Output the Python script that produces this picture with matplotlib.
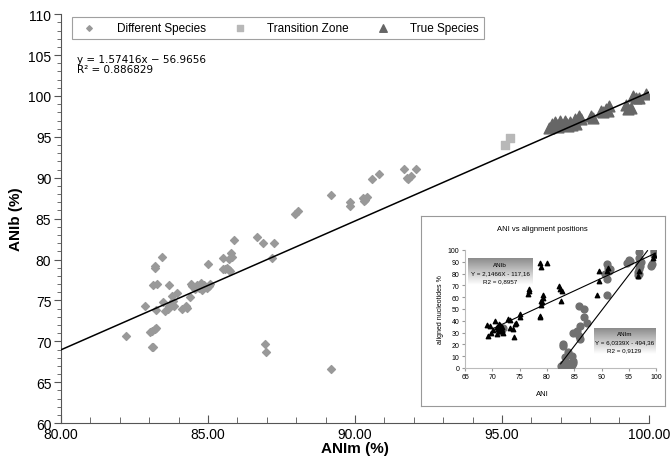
import numpy as np
import matplotlib
matplotlib.use("Agg")
import matplotlib.pyplot as plt
from matplotlib.ticker import MultipleLocator, FormatStrFormatter

plt.rcParams["font.family"] = ["Liberation Sans", "DejaVu Sans"]

# ---- main chart data (ANIm vs ANIb) ----
diff_x = [82.22, 82.87, 83.04, 83.1, 83.18, 83.22, 83.08, 83.14, 83.18, 83.2, 83.14, 83.25,
          83.23, 83.43, 83.48, 83.55, 83.63, 83.68, 83.66, 83.77, 83.85, 83.8, 83.96, 84.1,
          84.25, 84.3, 84.39, 84.41, 84.47, 84.55, 84.62, 84.7, 84.75, 84.8, 84.88, 84.95,
          85.02, 85.07, 84.78, 85.0, 85.52, 85.5, 85.58, 85.66, 85.72, 85.76, 85.77, 85.82,
          85.7, 85.87, 86.65, 86.86, 87.17, 87.23, 86.93, 86.98, 87.96, 88.07, 89.2, 89.2,
          89.83, 89.83, 90.27, 90.33, 90.4, 90.3, 90.57, 90.83, 91.68, 91.76, 91.9, 92.07,
          91.82]
diff_y = [70.6, 74.3, 71.1, 71.3, 71.5, 71.6, 69.3, 76.9, 79.2, 79.0, 69.3, 76.95,
          73.8, 80.3, 74.8, 73.7, 73.9, 74.3, 76.9, 75.6, 74.3, 74.95, 75.9, 73.9,
          74.3, 74.1, 75.4, 77.0, 76.8, 76.4, 76.9, 76.5, 77.1, 76.6, 76.9, 76.5,
          76.8, 77.0, 76.3, 79.4, 80.2, 78.8, 78.9, 79.0, 78.7, 78.6, 80.8, 80.3,
          80.1, 82.4, 82.8, 82.0, 80.2, 82.0, 69.7, 68.7, 85.6, 85.9, 87.9, 66.6,
          87.05, 86.5, 87.5, 87.3, 87.6, 87.2, 89.8, 90.5, 91.05, 89.95, 90.2, 91.05,
          89.8]

trans_x = [95.09, 95.28]
trans_y = [94.0, 94.9]

true_x = [96.69, 96.75, 96.8, 96.88, 96.97, 97.05, 97.14, 97.2, 97.31, 97.4, 97.48, 97.53,
          97.64, 97.7, 98.04, 98.1, 98.38, 98.45, 98.54, 98.6, 98.65, 99.22, 99.3, 99.39,
          99.45, 99.55, 99.67, 99.9, 96.6, 96.9, 97.25]
true_y = [96.55, 96.3, 96.83, 96.4, 96.96, 96.5, 96.96, 96.6, 96.83, 96.4, 97.24, 96.55,
          97.57, 97.2, 97.57, 97.3, 98.18, 98.0, 98.46, 98.2, 98.79, 98.87, 98.4, 98.59,
          100.0, 99.7, 99.81, 100.2, 96.1, 96.2, 96.3]

slope, intercept = 1.57416, -56.9656

# ---- inset data (ANI vs aligned nucleotides %) ----
anib_x = [78.7, 79.97, 78.9, 76.6, 76.7, 76.8, 79.0, 79.1, 79.2, 79.3, 78.9, 78.7,
          78.8, 75.1, 75.0, 72.9, 73.2, 74.2, 74.4, 73.2, 73.85, 74.0, 69.3, 69.1,
          69.5, 69.7, 70.5, 70.8, 71.0, 71.2, 71.4, 71.6, 71.8, 72.0, 70.9, 71.3,
          71.7, 82.2, 82.4, 82.6, 82.8, 89.1, 89.6, 89.6, 90.98, 91.1, 96.9, 96.6,
          99.6, 99.4, 70.2]
anib_y = [89.0, 89.0, 85.3, 63.0, 65.0, 67.0, 53.0, 56.0, 59.0, 62.0, 57.0, 44.0,
          43.0, 45.8, 43.0, 41.5, 40.6, 37.0, 38.0, 33.6, 33.0, 26.5, 27.4, 36.0,
          35.5, 30.0, 40.0, 35.0, 33.0, 31.0, 36.0, 34.0, 32.0, 30.0, 29.0, 37.0,
          35.0, 69.7, 66.9, 57.0, 65.0, 61.9, 73.4, 82.5, 82.5, 85.0, 82.5, 78.0,
          96.0, 93.5, 32.0]

anim_x = [90.7, 90.9, 91.1, 91.4, 91.6, 91.0, 91.0, 94.7, 95.0, 95.2, 96.9, 96.9,
          96.9, 96.9, 96.9, 96.6, 96.6, 99.6, 99.6, 99.6, 99.3, 99.1, 85.8, 86.7,
          86.7, 87.3, 84.85, 85.5, 86.1, 85.8, 86.1, 84.6, 84.85, 83.9, 83.3, 83.0,
          83.0, 83.3, 83.6, 83.9, 84.2, 84.5, 84.7, 82.6, 82.9, 71.2, 71.6, 72.0,
          97.2, 97.1]
anim_y = [80.0, 88.0, 85.0, 82.0, 84.0, 75.0, 62.1, 89.0, 91.7, 90.5, 98.0, 93.0,
          88.0, 84.0, 80.0, 81.0, 78.8, 100.0, 98.0, 96.0, 88.0, 86.7, 52.8, 50.0,
          43.0, 38.0, 30.0, 31.6, 35.3, 27.4, 24.6, 10.0, 6.2, 13.3, 9.0, 18.9,
          20.0, 3.0, 2.0, 4.0, 3.0, 2.5, 4.0, 2.0, 3.5, 33.0, 31.0, 34.0,
          90.0, 86.0]

anib_slope, anib_icpt = 2.1466, -117.16
anim_slope, anim_icpt = 6.0339, -494.36

fig = plt.figure(figsize=(6.71, 4.60), dpi=100)
ax = fig.add_axes([0.091, 0.078, 0.876, 0.889])

ax.scatter(diff_x, diff_y, marker="D", s=16, color="#999999", zorder=3, label="Different Species")
ax.scatter(trans_x, trans_y, marker="s", s=30, color="#b8b8b8", zorder=3, label="Transition Zone")
ax.scatter(true_x, true_y, marker="^", s=60, color="#666666", zorder=3, label="True Species")

lx = np.array([80.0, 100.0])
ax.plot(lx, slope * lx + intercept, color="black", lw=1.1, zorder=4)

ax.set_xlim(80, 100)
ax.set_ylim(60, 110)
ax.xaxis.set_major_locator(MultipleLocator(5))
ax.xaxis.set_minor_locator(MultipleLocator(1))
ax.yaxis.set_major_locator(MultipleLocator(5))
ax.yaxis.set_minor_locator(MultipleLocator(1))
ax.xaxis.set_major_formatter(FormatStrFormatter("%.2f"))
ax.tick_params(axis="x", which="both", direction="in", colors="#555555", labelcolor="black",
               labelsize=10, pad=3)
ax.tick_params(axis="x", which="major", length=6)
ax.tick_params(axis="x", which="minor", length=4)
ax.tick_params(axis="y", which="both", direction="out", colors="#555555", labelcolor="black",
               labelsize=10, pad=2)
ax.tick_params(axis="y", which="major", length=5)
ax.tick_params(axis="y", which="minor", length=3)
for s in ["top", "right"]:
    ax.spines[s].set_visible(False)
for s in ["left", "bottom"]:
    ax.spines[s].set_color("#555555")

ax.set_xlabel("ANIm (%)", fontsize=11, fontweight="bold", labelpad=0)
ax.set_ylabel("ANIb (%)", fontsize=11, fontweight="bold", labelpad=4)

leg = ax.legend(loc="upper left", bbox_to_anchor=(0.015, 1.0), ncol=3, fontsize=8.5,
                frameon=True, fancybox=False, edgecolor="#888888", handletextpad=1.3,
                columnspacing=1.9, borderpad=0.45, markerscale=0.7, borderaxespad=0.2)
leg.get_frame().set_linewidth(0.8)

ax.text(0.027, 0.903, "y = 1.57416x \u2212 56.9656\nR\u00b2 = 0.886829", transform=ax.transAxes,
        fontsize=7.5, family="DejaVu Sans", va="top", linespacing=1.05)

# ---- inset ----
frame = fig.add_axes([0.627, 0.115, 0.364, 0.413])
frame.set_xticks([])
frame.set_yticks([])
for s in frame.spines.values():
    s.set_color("#999999")
    s.set_linewidth(0.8)
frame.text(0.5, 0.935, "ANI vs alignment positions", transform=frame.transAxes, ha="center",
           va="center", fontsize=5.5)
frame.text(0.5, 0.065, "ANI", transform=frame.transAxes, ha="center", va="center", fontsize=5.5)

ins = fig.add_axes([0.693, 0.198, 0.285, 0.2565])
ins.scatter(anim_x, anim_y, marker="o", s=24, color="#707070", zorder=3)
ins.scatter(anib_x, anib_y, marker="^", s=10, color="black", zorder=3)
bx = np.array([70.0, 100.0])
ins.plot(bx, anib_slope * bx + anib_icpt, color="black", lw=0.8, zorder=4)
mx = np.array([82.5, 98.4])
ins.plot(mx, anim_slope * mx + anim_icpt, color="black", lw=0.8, zorder=4)
ins.set_xlim(65, 100)
ins.set_ylim(0, 100)
ins.set_xticks(range(65, 101, 5))
ins.set_yticks(range(0, 101, 10))
ins.tick_params(labelsize=5, length=2, colors="#999999", labelcolor="black", pad=2)
for s in ["top", "right"]:
    ins.spines[s].set_visible(False)
for s in ["left", "bottom"]:
    ins.spines[s].set_color("#bbbbbb")
ins.set_ylabel("aligned nucleotides %", fontsize=5, labelpad=3)

grad = np.linspace(0.55, 1.0, 50).reshape(-1, 1)
for (x0, x1, y0, y1), lines in [((65.5, 77.3, 70.3, 92.4), ["ANIb", "Y = 2,1466X - 117,16", "R2 = 0,8957"]),
                                ((88.6, 99.8, 11.9, 33.9), ["ANIm", "Y = 6,0339X - 494,36", "R2 = 0,9129"])]:
    ins.imshow(grad, cmap="gray", vmin=0, vmax=1, extent=(x0, x1, y0, y1), aspect="auto",
               origin="upper", zorder=5)
    cx = (x0 + x1) / 2
    for i, t in enumerate(lines):
        ins.text(cx, y1 - (y1 - y0) * (0.2 + 0.32 * i), t, ha="center", va="center",
                 fontsize=4.5, zorder=6)
ins.set_xlim(65, 100)
ins.set_ylim(0, 100)

fig.savefig("out.png", dpi=100)
